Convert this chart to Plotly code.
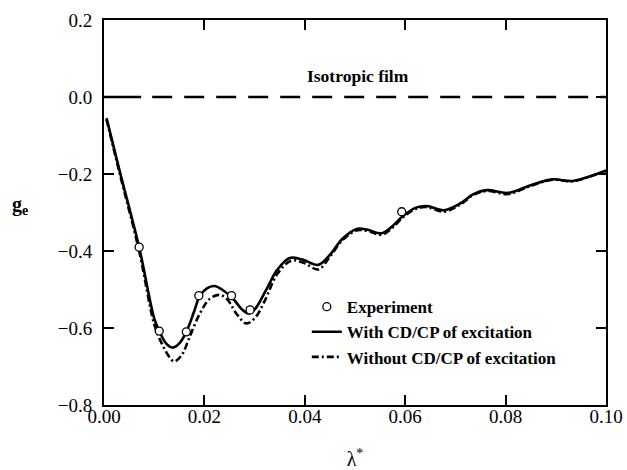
import plotly.graph_objects as go

# Experimental points
exp_x = [0.007, 0.011, 0.0164, 0.0189, 0.0254, 0.0291, 0.0593]
exp_y = [-0.390, -0.608, -0.610, -0.516, -0.516, -0.553, -0.298]

# With CD/CP of excitation (solid)
with_x = [0.0005, 0.003, 0.007, 0.010, 0.011, 0.0125, 0.0137, 0.015, 0.0164, 0.018,
          0.019, 0.0205, 0.022, 0.0235, 0.0257, 0.0275, 0.0287, 0.030, 0.0323, 0.0345,
          0.037, 0.0397, 0.0427, 0.045, 0.0475, 0.0505, 0.0525, 0.0553, 0.0575, 0.0595,
          0.062, 0.0643, 0.0677, 0.071, 0.0735, 0.0763, 0.0805, 0.085, 0.0893, 0.0933,
          0.097, 0.100]
with_y = [-0.055, -0.186, -0.390, -0.575, -0.608, -0.642, -0.651, -0.640, -0.610, -0.555,
          -0.519, -0.497, -0.491, -0.500, -0.524, -0.552, -0.562, -0.552, -0.501, -0.449,
          -0.418, -0.423, -0.436, -0.410, -0.368, -0.342, -0.345, -0.354, -0.335, -0.310,
          -0.288, -0.283, -0.294, -0.276, -0.253, -0.242, -0.249, -0.229, -0.214, -0.218,
          -0.205, -0.191]

# Without CD/CP of excitation (dash-dot)
wo_x = [0.0005, 0.003, 0.007, 0.010, 0.0115, 0.013, 0.014, 0.0155, 0.017, 0.019,
        0.021, 0.023, 0.0245, 0.0265, 0.0283, 0.030, 0.032, 0.0345, 0.0373, 0.040,
        0.0427, 0.045, 0.0475, 0.0505, 0.053, 0.0553, 0.0575, 0.0595, 0.062, 0.0643,
        0.0677, 0.071, 0.0735, 0.0763, 0.0805, 0.085, 0.0893, 0.0933, 0.097, 0.100]
wo_y = [-0.058, -0.192, -0.400, -0.590, -0.640, -0.675, -0.687, -0.670, -0.625, -0.565,
        -0.525, -0.514, -0.525, -0.565, -0.588, -0.575, -0.530, -0.460, -0.425, -0.432,
        -0.448, -0.415, -0.372, -0.346, -0.350, -0.358, -0.339, -0.313, -0.291, -0.286,
        -0.298, -0.279, -0.255, -0.244, -0.252, -0.231, -0.215, -0.219, -0.206, -0.192]

x_ticks = [0.00, 0.02, 0.04, 0.06, 0.08, 0.10]
y_ticks = [-0.8, -0.6, -0.4, -0.2, 0.0, 0.2]

FONT = "Liberation Serif"

fig = go.Figure()

fig.add_trace(go.Scatter(x=wo_x, y=wo_y, mode="lines", name="<b>Without CD/CP of excitation</b>",
                         line=dict(color="black", width=2.6, dash="7px,3px,2px,3px", shape="spline", smoothing=1.0)))
fig.add_trace(go.Scatter(x=with_x, y=with_y, mode="lines", name="<b>With CD/CP of excitation</b>",
                         line=dict(color="black", width=2.6, shape="spline", smoothing=1.0)))
fig.add_trace(go.Scatter(x=exp_x, y=exp_y, mode="markers", name="<b>Experiment</b>",
                         marker=dict(symbol="circle", size=8, color="white",
                                     line=dict(color="black", width=1.3))))

# zero line (isotropic film)
fig.add_shape(type="line", xref="x", yref="y", x0=0.0, x1=0.0074, y0=0, y1=0,
              line=dict(color="black", width=2.6))
fig.add_shape(type="line", xref="x", yref="y", x0=0.0096, x1=0.1, y0=0, y1=0,
              line=dict(color="black", width=2.6, dash="20px,12px"))

fig.add_annotation(x=0.0505, y=0.0545, xref="x", yref="y", text="<b>Isotropic film</b>",
                   showarrow=False, font=dict(family=FONT, size=17.5, color="black"))

fig.add_annotation(x=(20 - 104) / 502, y=(405 - 205) / 385, xref="paper", yref="paper",
                   xanchor="center", yanchor="middle", text="<b>g<sub>e</sub></b>",
                   showarrow=False, font=dict(family=FONT, size=20, color="black"))

axis_common = dict(showline=True, linecolor="black", linewidth=2, mirror="allticks",
                   ticks="inside", ticklen=10, tickwidth=2, tickcolor="black",
                   showgrid=False, zeroline=False, automargin=False,
                   tickfont=dict(family=FONT, size=19, color="black"))

fig.update_xaxes(range=[0, 0.1], tickvals=x_ticks, tickformat=".2f", ticklabelstandoff=-7,
                 title=dict(text="λ<sup>*</sup>", font=dict(family=FONT, size=20, color="black"), standoff=37),
                 **axis_common)
fig.update_yaxes(range=[-0.8, 0.2], tickvals=y_ticks, tickformat=".1f", ticklabelstandoff=6,
                 **axis_common)

fig.update_layout(
    width=627, height=470,
    margin=dict(l=104, r=21, t=20, b=65),
    plot_bgcolor="white", paper_bgcolor="white",
    showlegend=True,
    legend=dict(x=0.404, y=0.301, xanchor="left", yanchor="top", traceorder="reversed",
                bgcolor="rgba(0,0,0,0)", borderwidth=0,
                font=dict(family=FONT, size=17, color="black"),
                tracegroupgap=0),
)

fig.write_html("out.html")
